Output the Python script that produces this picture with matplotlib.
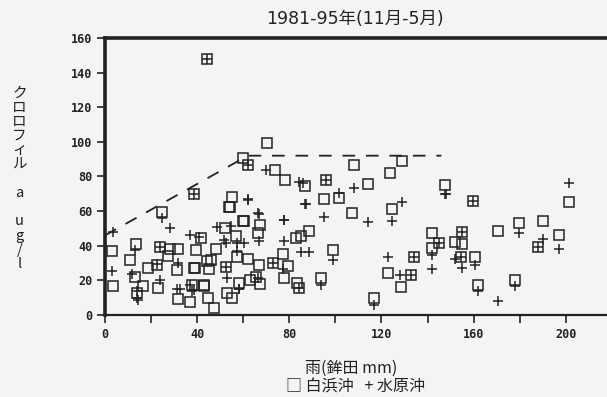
import matplotlib.pyplot as plt

# 白浜沖 (squares): rain (mm), chlorophyll a (ug/l)
shira_x = [3, 3.5, 13.5, 11, 13, 14, 16.7, 18.6, 22.6, 24, 28.4, 31.5, 27.5, 31.3, 23,
           31.5, 37, 38.5, 39.3, 37.8, 24.7, 38.6, 41.5, 42.8, 44.4, 45, 44.8, 48, 47.2,
           52.4, 52, 54, 55.3, 56.8, 57.5, 58, 55, 53, 62, 60.3, 67, 63, 65.5, 67.3, 67.3,
           66.4, 73, 44.4, 70.5, 60, 62, 74, 78.2, 86.6, 96, 95, 101.5, 108, 128.8, 123.7,
           114, 147.4, 107, 124.7, 88.4, 83, 85, 99, 77.1, 79.3, 77.9, 83.4, 84, 93.9,
           116.9, 123, 128.5, 133, 134, 142, 144.8, 142, 159.7, 155, 151.8, 155, 154.7,
           160.5, 162, 170.7, 179.8, 178, 190, 187.8, 197, 201.6, 42.9, 46, 39, 54.3, 60.1]
shira_y = [37, 17, 41, 32, 22, 13, 17, 27, 29, 39.5, 38, 38, 34, 26, 15.6,
           9, 7.7, 27, 37.5, 17.3, 59.7, 70, 44.5, 17.3, 31.4, 26.5, 9.8, 38, 4,
           28, 50.5, 62.6, 68, 45.6, 33.5, 18.5, 9.8, 13, 32.4, 54.5, 29, 20, 22, 18, 52,
           47.4, 30, 147.7, 99.5, 90.5, 86.7, 83.8, 78, 74.5, 78, 66.8, 67.5, 86.7, 89, 82,
           75.7, 75, 58.8, 61, 48.7, 44.3, 45.6, 37.5, 35, 28.3, 21.2, 18.3, 15.4, 21.2,
           9.6, 24, 16, 23, 33.7, 47.2, 41.4, 38.5, 66, 48, 42.3, 41, 33.3,
           33.3, 17.3, 48.5, 53, 20.2, 54.5, 39.5, 46, 65.5, 16.8, 31.8, 26.9, 62.6, 54.5]

# 水原沖 (pluses)
mizu_x = [3.6, 2.9, 28.4, 13.1, 11.6, 13.8, 14.5, 23.7, 31.3, 31.6, 37.1, 36.8, 38.6,
          40.6, 61.9, 66.2, 67, 48.5, 53.1, 52.4, 60.4, 32.5, 54.6, 51.7, 57.2, 67, 77.6,
          77.9, 57.5, 58.2, 86.9, 77.9, 95, 108.2, 114, 128.8, 124.5, 84.9, 88.4, 99,
          77.1, 93.9, 116.9, 123, 128, 141.9, 147.4, 142, 101.7, 85.9, 147.8, 151.8, 155,
          160.5, 162, 170.7, 179.8, 178, 190, 197, 201.3, 69.9, 84.4, 62.1, 87.3, 44.4,
          38.6, 62, 96, 22.6, 24, 155, 159.7, 133, 134, 144.8, 187.8, 154.7, 73, 52.4, 84,
          66.2, 24.7, 37.8, 14, 58]
mizu_y = [48, 25.6, 50, 37.5, 23.7, 14, 8.7, 20.2, 14.8, 29.8, 46.2, 17.3, 14.4,
          45, 66.8, 58.8, 42.8, 51, 21.2, 41.8, 41.8, 14.8, 51.4, 43.3, 41.8, 58.3, 54.9,
          42.9, 37, 15, 64.1, 54.9, 56.8, 73.2, 53.9, 65.5, 54.5, 36.6, 36.6, 31.8,
          26.4, 17.3, 5.8, 33.3, 23.1, 26.4, 70, 34.7, 70.5, 76, 70, 32.1, 27,
          28.9, 14, 8.3, 47.5, 16.8, 43.7, 38, 76.4, 83.8, 77, 66.4, 64.1, 147.7,
          70, 86.7, 78, 29.4, 39.5, 48, 66, 23, 33.7, 41.4, 39.5, 33.3, 30, 28, 15.4,
          21.2, 56, 14, 10, 15]

# dashed envelope
env_x = [0, 62, 146]
env_y = [46, 92, 92]

x_ticks = list(range(0, 220, 20))
x_labels = ['0', '', '40', '', '80', '', '120', '', '160', '', '200']
y_ticks = list(range(0, 180, 20))

bg = '#f4f4f2'
ink = '#222222'
fig = plt.figure(figsize=(6.07, 3.97), dpi=100, facecolor=bg)
ax = fig.add_axes([0.173, 0.2065, 0.835, 0.698], facecolor=bg)

ax.plot(shira_x, shira_y, 's', ms=6.5, mfc='none', mec=ink, mew=1.1, clip_on=False)
ax.plot(mizu_x, mizu_y, '+', ms=7, mec=ink, mew=1.1, clip_on=False)
ax.plot(env_x, env_y, '--', color=ink, lw=1.3, dashes=(7, 6))

ax.set_xlim(0, 220)
ax.set_ylim(0, 160)
ax.set_xticks(x_ticks)
ax.set_xticklabels(x_labels)
ax.set_yticks(y_ticks)
ax.spines['right'].set_visible(False)
ax.spines['left'].set_linewidth(2.6)
ax.spines['top'].set_linewidth(2.6)
ax.spines['bottom'].set_linewidth(1.6)
for s in ax.spines.values():
    s.set_color(ink)
ax.tick_params(direction='out', length=6, width=1.2, color=ink, pad=3)
for lab in ax.get_xticklabels() + ax.get_yticklabels():
    lab.set_fontfamily('DejaVu Sans Mono')
    lab.set_fontweight('bold')
    lab.set_fontsize(8.5)
    lab.set_color(ink)

lat = ['DejaVu Sans', 'Noto Sans CJK JP']
cjk = ['Noto Sans CJK JP', 'DejaVu Sans']
fig.text(0.585, 0.953, '1981-95年(11月-5月)', ha='center', va='center',
         fontsize=12.5, family=lat, color=ink)
ylab = 'ク\nロ\nロ\nフ\nィ\nル\n\na\n\nu\ng\n/\nl'
fig.text(0.032, 0.55, ylab, ha='center', va='center', fontsize=10.5,
         family=cjk, color=ink, linespacing=1.02)
fig.text(0.578, 0.073, '雨(鉾田 mm)', ha='center', va='center', fontsize=11.5,
         family=cjk, color=ink)
fig.text(0.585, 0.025, '□ 白浜沖   + 水原沖', ha='center', va='center', fontsize=11.5,
         family=cjk, color=ink)

fig.savefig('out.png', dpi=100, facecolor=bg)
